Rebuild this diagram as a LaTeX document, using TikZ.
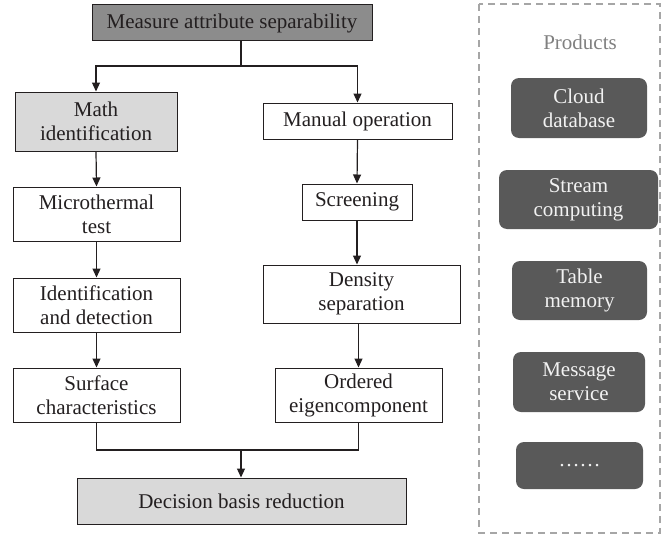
\documentclass[tikz,border=0pt]{standalone}
\usepackage{fontspec}
\setmainfont{Liberation Serif}
\usetikzlibrary{arrows.meta,calc}

\definecolor{ink}{HTML}{231F20}
\definecolor{headfill}{HTML}{8C8C8C}
\definecolor{lightfill}{HTML}{D9D9D9}
\definecolor{prodfill}{HTML}{595959}
\definecolor{prodtext}{HTML}{F2F2F2}
\definecolor{paneldash}{HTML}{A6A6A6}
\definecolor{paneltitle}{HTML}{808080}

\tikzset{
  flowbox/.style={draw=ink, line width=1pt, rectangle, inner sep=0pt,
    align=center, text=ink, font=\fontsize{21}{24}\selectfont},
  prodbox/.style={rectangle, rounded corners=8pt, fill=prodfill, inner sep=0pt,
    align=center, text=prodtext, font=\fontsize{21}{24}\selectfont},
  link/.style={draw=ink, line width=1.2pt},
  arr/.style={link, -{Triangle[length=9pt,width=8pt]}},
}

\begin{document}
\begin{tikzpicture}[x=1pt,y=-1pt]
\useasboundingbox (0,0) rectangle (663,535);

% main flow
\node[flowbox, fill=headfill, minimum width=280pt, minimum height=36pt] (top) at (232,23) {Measure attribute separability};

\node[flowbox, fill=lightfill, minimum width=162pt, minimum height=59pt] (math) at (96,121.5) {Math\\identification};
\node[flowbox, minimum width=167pt, minimum height=54pt] (micro) at (96.5,214) {Microthermal\\test};
\node[flowbox, minimum width=167pt, minimum height=54pt] (ident) at (96.5,305) {Identification\\and detection};
\node[flowbox, minimum width=167pt, minimum height=54pt] (surface) at (96.5,395) {Surface\\characteristics};

\node[flowbox, minimum width=189pt, minimum height=36pt] (manual) at (357.5,121) {Manual operation};
\node[flowbox, minimum width=110pt, minimum height=36pt] (screen) at (357,202) {Screening};
\node[flowbox, minimum width=197pt, minimum height=58pt] (dens) at (361.5,294) {Density\\separation};
\node[flowbox, minimum width=167pt, minimum height=54pt] (ordered) at (358.5,395) {Ordered\\eigencomponent};

\node[flowbox, fill=lightfill, minimum width=329pt, minimum height=46pt] (decision) at (241.5,501) {Decision basis reduction};

\coordinate (split) at (241,66);
\coordinate (merge) at (241,450);

% connectors
\draw[link] (top.south -| split) -- (split);
\draw[arr] (split) -| (math.north);
\draw[arr] (split) -| (manual.north);

\draw[arr] (math.south) -- (micro.north);
\draw[arr] (micro.south) -- (ident.north);
\draw[arr] (ident.south) -- (surface.north);

\draw[arr] (manual.south) -- (screen.north);
\draw[arr] (screen.south) -- (screen.south |- dens.north);
\draw[arr] (dens.south -| ordered) -- (ordered.north);

\draw[link] (surface.south) |- (merge);
\draw[link] (ordered.south) |- (merge);
\draw[arr] (merge) -- (merge |- decision.north);

% products panel
\draw[draw=paneldash, line width=1.2pt, dash pattern=on 7pt off 5pt] (479,4) rectangle (660,533);
\node[text=paneltitle, font=\fontsize{21}{24}\selectfont] (prodtitle) at (580,42) {Products};

\node[prodbox, minimum width=136pt, minimum height=60pt] (cloud) at (579,108) {Cloud\\database};
\node[prodbox, minimum width=159pt, minimum height=59pt] (stream) at (578.5,199.5) {Stream\\computing};
\node[prodbox, minimum width=135pt, minimum height=59pt] (table) at (579.5,290.5) {Table\\memory};
\node[prodbox, minimum width=132pt, minimum height=60pt] (message) at (579,382) {Message\\service};
\node[prodbox, minimum width=127pt, minimum height=47pt] (more) at (579.5,465.5) {……};
\end{tikzpicture}
\end{document}
